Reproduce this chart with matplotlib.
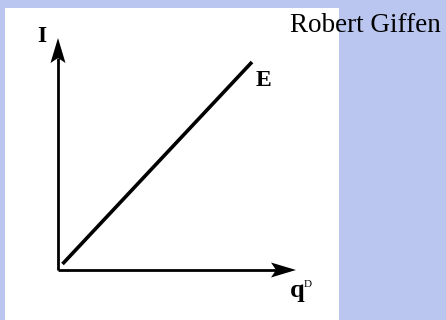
import matplotlib
matplotlib.use("Agg")
import matplotlib.pyplot as plt
from matplotlib.patches import Rectangle, Polygon

# Data (in diagram units; origin at the axes corner)
line_x = [4.5, 194.0]
line_y = [6.0, 208.0]
y_axis_len = 232
x_axis_len = 238
labels = {"I": "I", "E": "E", "q": "q", "sup": "D"}
title = "Robert Giffen"

W, H = 446, 320
ox, oy = 58, 270  # pixel position of origin

fig = plt.figure(figsize=(W / 100, H / 100), dpi=100)
fig.patch.set_facecolor("#bac6ef")
ax = fig.add_axes([0, 0, 1, 1])
ax.set_xlim(-ox, W - ox)
ax.set_ylim(oy - H, oy)
ax.axis("off")

# white panel
ax.add_patch(Rectangle((5 - ox, oy - H), 334, H - 8, facecolor="white",
                       edgecolor="none", zorder=0))

lw = 2.0
# axes lines
ax.plot([0, 0], [0, y_axis_len - 20], color="black", lw=lw, solid_capstyle="butt")
ax.plot([0, x_axis_len - 20], [0, 0], color="black", lw=lw, solid_capstyle="butt")
# arrowheads (stealth-like)
ax.add_patch(Polygon([(0, y_axis_len), (-7.5, y_axis_len - 25), (0, y_axis_len - 20),
                      (7.5, y_axis_len - 25)], closed=True, color="black", lw=0))
ax.add_patch(Polygon([(x_axis_len, 0), (x_axis_len - 25, 7.5), (x_axis_len - 20, 0),
                      (x_axis_len - 25, -7.5)], closed=True, color="black", lw=0))

# line E
ax.plot(line_x, line_y, color="black", lw=2.6, solid_capstyle="butt")

serif = ["Liberation Serif", "DejaVu Serif"]
ax.text(42 - ox, oy - 36, labels["I"], fontsize=17, fontweight="bold", family=serif,
        ha="center", va="center")
ax.text(263 - ox, oy - 80, labels["E"], fontsize=17, fontweight="bold", family=serif,
        ha="center", va="center")
ax.text(297 - ox, oy - 297, labels["q"], fontsize=19, fontweight="bold", family=serif,
        ha="center", va="baseline")
ax.text(308 - ox, oy - 287, labels["sup"], fontsize=8, family=serif,
        ha="center", va="baseline")
ax.text(365.5 - ox, oy - 25, title, fontsize=19.5, family=serif,
        ha="center", va="center")

fig.savefig("out.png", dpi=100, facecolor=fig.get_facecolor())
